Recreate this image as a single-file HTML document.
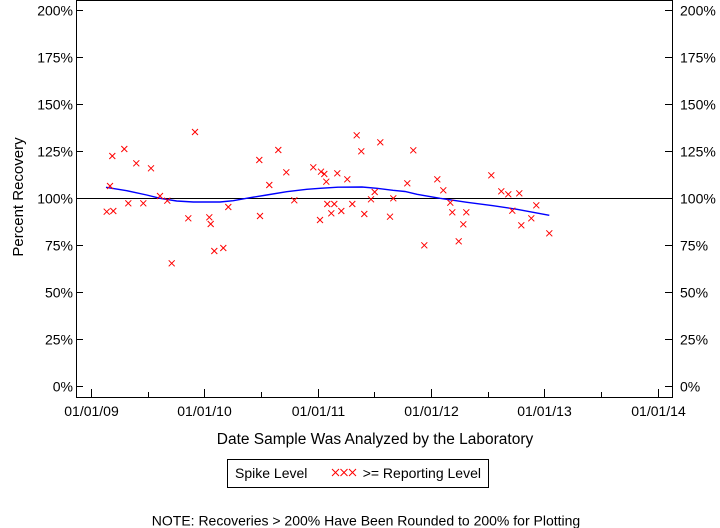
<!DOCTYPE html>
<html>
<head>
<meta charset="utf-8">
<style>
html,body{margin:0;padding:0;background:#fff;}
svg{display:block;}
text{font-family:"Liberation Sans",Arial,sans-serif;fill:#000;}
</style>
</head>
<body>
<svg width="720" height="528" viewBox="0 0 720 528" xmlns="http://www.w3.org/2000/svg">
<defs>
<marker id="x" markerWidth="8" markerHeight="8" refX="4" refY="4" markerUnits="userSpaceOnUse" overflow="visible">
<path d="M1,1L7,7M7,1L1,7" stroke="#ff0000" stroke-width="1" fill="none"/>
</marker>
</defs>
<rect x="0" y="0" width="720" height="528" fill="#fff"/>
<g stroke="#000" stroke-width="1" fill="none" shape-rendering="crispEdges">
<rect x="76.5" y="0.5" width="596" height="397"/>
<path d="M76,386.5h7M76,339.5h7M76,292.5h7M76,245.5h7M76,198.5h7M76,151.5h7M76,104.5h7M76,57.5h7M76,10.5h7"/>
<path d="M665,386.5h7M665,339.5h7M665,292.5h7M665,245.5h7M665,198.5h7M665,151.5h7M665,104.5h7M665,57.5h7M665,10.5h7"/>
<path d="M91.5,389v8M204.5,389v8M318.5,389v8M431.5,389v8M544.5,389v8M658.5,389v8"/>
<path d="M148.5,392v5M261.5,392v5M374.5,392v5M488.5,392v5M601.5,392v5"/>
<line x1="76" y1="198.5" x2="672" y2="198.5"/>
</g>
<g font-size="14" text-anchor="end">
<text x="73" y="391.5">0%</text>
<text x="73" y="344.5">25%</text>
<text x="73" y="297.5">50%</text>
<text x="73" y="250.5">75%</text>
<text x="73" y="203.5">100%</text>
<text x="73" y="156.5">125%</text>
<text x="73" y="109.5">150%</text>
<text x="73" y="62.5">175%</text>
<text x="73" y="15.5">200%</text>
</g>
<g font-size="14">
<text x="680" y="391.5">0%</text>
<text x="680" y="344.5">25%</text>
<text x="680" y="297.5">50%</text>
<text x="680" y="250.5">75%</text>
<text x="680" y="203.5">100%</text>
<text x="680" y="156.5">125%</text>
<text x="680" y="109.5">150%</text>
<text x="680" y="62.5">175%</text>
<text x="680" y="15.5">200%</text>
</g>
<g font-size="14" text-anchor="middle">
<text x="91.5" y="416">01/01/09</text>
<text x="204.5" y="416">01/01/10</text>
<text x="318.5" y="416">01/01/11</text>
<text x="431.5" y="416">01/01/12</text>
<text x="544.5" y="416">01/01/13</text>
<text x="658.5" y="416">01/01/14</text>
</g>
<text x="375" y="444" font-size="15.5" text-anchor="middle">Date Sample Was Analyzed by the Laboratory</text>
<text transform="translate(23,197) rotate(-90)" font-size="15" text-anchor="middle">Percent Recovery</text>
<polyline fill="none" stroke="#0000ff" stroke-width="1.4" points="106,187.3 126.7,190.7 146.7,195 160,198.3 176.7,201 193.3,202 220,202 233.3,200.7 250,197.7 266.7,195 286.7,191.7 306.7,189.3 320,188.3 338,187.2 362,187 377,188.3 393,190.3 405,191.5 417,194.3 440,198.3 467,202.3 493,205.7 517,209.3 549.3,215.3"/>
<polyline fill="none" stroke="none" marker-start="url(#x)" marker-mid="url(#x)" marker-end="url(#x)" points="106.7,211.7 113.3,211 112.3,156 110,186 124.3,149 128.3,203.3 136.3,163.3 143.3,203.3 151,168.3 160,196 167.3,200.7 171.7,263.3 195,132 188.3,218.3 209.3,217.3 210.7,224 214.3,251 223.3,248 228.3,207 259.3,160 260,216 269.3,185 278.3,150 286.3,172.3 294.3,200.3 313.3,167.3 321,171.7 324.3,174 326.3,181.7 320,220 327.3,204 334.3,204 331.3,213.3 337.3,173.3 341.3,211 347.3,179.3 352.3,204 356.7,135.3 361.3,151.3 364.3,214 371,199.3 374.7,192 380.3,142.3 390,216.7 393.3,198.3 407.3,183.3 413.3,150.3 424.3,245.3 437.3,179.3 443.3,190.3 450.3,202.7 452.3,212.3 466.3,212.3 463.3,224.3 458.7,241.3 491.3,175.3 501.3,191.3 508.3,194.3 519.3,193.3 512.3,210.7 521.3,225.3 531.3,218.3 536.3,205.3 549.3,233.3"/>
<rect x="227.5" y="459.5" width="261" height="28" fill="none" stroke="#000" stroke-width="1" shape-rendering="crispEdges"/>
<text x="235" y="478" font-size="14">Spike Level</text>
<path d="M332,469l7,7m0,-7l-7,7M340.5,469l7,7m0,-7l-7,7M349,469l7,7m0,-7l-7,7" stroke="#ff0000" stroke-width="1" fill="none"/>
<text x="362.7" y="478" font-size="14">&gt;= Reporting Level</text>
<text x="366" y="525.5" font-size="14" text-anchor="middle">NOTE: Recoveries &gt; 200% Have Been Rounded to 200% for Plotting</text>
</svg>
</body>
</html>
